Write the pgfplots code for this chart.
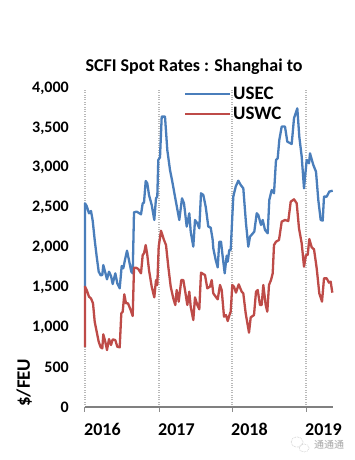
\documentclass[border=0pt]{standalone}
\usepackage{pgfplots}
\pgfplotsset{compat=1.18}
\usepackage{fontspec}
\setmainfont{Carlito}
\newfontfamily\cjk{Noto Sans CJK SC}
\definecolor{ublue}{RGB}{74,126,187}
\definecolor{ured}{RGB}{190,75,72}
\pgfplotstableread{
x v
0 1500
0 2554
1.7 2520
4 2428
6 2458
7.7 2336
9.7 2094
11.7 1885
13.7 1697
15.7 1651
17.3 1655
18.3 1780
20.3 1684
22 1601
24 1697
26 1643
27.7 1542
30.3 1676
32.3 1551
34.7 1488
36.7 1768
38.3 1739
40.3 1864
42 1960
44.3 1822
46.3 1697
47.7 1676
49 2441
51.7 2450
56 2416
57.7 2554
59 2563
60.7 2834
62.3 2805
64 2659
66.7 2533
69.3 2345
71 2617
72.3 2638
73.3 3098
75 3131
76.7 3641
80 3641
82.3 3223
85 2972
87.3 2826
90 2638
94.3 2345
97 2617
99 2554
101.7 2262
104.3 2429
105.7 2199
108.3 2011
110 2345
112.3 2303
114.3 2241
116 2680
118.3 2659
120.7 2512
123.3 2262
125.7 2249
127.7 2094
128.3 1989
130.7 1843
132.7 1751
134.3 2073
136 2073
137.7 1885
139.7 1676
141.7 1898
142.7 1822
144.3 1969
145.7 1969
147.3 2387
148.3 2638
150.7 2763
153.3 2838
155.7 2784
158.3 2742
161 2303
163.3 2011
165 2136
169.3 2199
171.7 2429
173.3 2408
176 2283
177.7 2345
180 2220
182.7 2178
184.3 2596
186.7 2721
189 2680
191 3098
192.7 3119
194.3 3348
196.7 3516
200 3516
202.3 3327
206.7 3298
209 3620
212.3 3745
214.3 3390
216.7 3139
219 2742
221.7 3098
224 3056
225 3181
228.3 3035
231 2951
233.3 2596
235.7 2345
237.7 2337
239 2638
241.7 2638
244.3 2701
247.7 2713
}\usec
\pgfplotstableread{
x v
0 750
0 1509
1.7 1467
4 1383
6 1362
8 1300
9.7 1070
11.7 945
13.7 819
15.7 748
17.3 735
18.3 911
20.3 819
22 714
24 852
26 777
27.7 848
30.3 840
32.3 756
34.7 748
36.3 1174
37.7 1195
39.3 1413
41 1300
43 1300
45.7 1216
47.7 1141
49 1747
51 1747
53.3 1730
56 1676
57.7 1906
59 1927
60.7 2031
62.3 1906
64 1718
66.7 1509
69.3 1375
71 1592
72.3 1530
73.7 2010
76 2211
79 2094
81 2031
83.3 1760
85.7 1509
88.3 1362
90.3 1279
91.7 1467
93.7 1321
96.3 1592
98.3 1592
100 1467
102.3 1279
104.3 1446
105.7 1258
108.3 1091
110 1375
112.3 1279
114.3 1225
116 1684
120 1655
122.3 1488
125 1509
126.7 1592
128.3 1425
130.7 1383
132.7 1350
135 1530
136.7 1467
139 1133
141 1153
142.7 1078
145 1174
145.7 1195
147.3 1530
149 1509
151 1434
153.7 1538
156.7 1446
158.3 1425
160.7 1174
164 932
165.7 1124
169 1153
171 1446
172.7 1467
175 1279
176.7 1279
178.3 1530
180.7 1279
182.3 1195
184 1530
186 1592
187.7 1676
189 2031
191 2073
194 2094
196.7 2324
200 2345
203.3 2332
205.7 2575
209 2604
211.7 2554
214 2240
216.7 2052
219 1760
221 1906
222.7 1906
224.3 2107
226.7 2002
229 1977
231.7 1739
234.3 1425
237 1321
239 1613
241.7 1613
244 1559
245.7 1571
247.3 1434
}\uswc
\begin{document}
\begin{tikzpicture}[x=1pt,y=1pt]
\path[use as bounding box,fill=white] (0,0) rectangle (354,460);
\begin{axis}[
  at={(85pt,53pt)},anchor=origin,
  scale only axis,width=248pt,height=319pt,
  xmin=0,xmax=248,ymin=0,ymax=4000,
  clip=false,
  axis line style={draw=none},
  axis x line*=bottom,
  axis y line*=left,
  xtick={0,74,147,221},
  xticklabels={2016,2017,2018,2019},
  xticklabel style={anchor=north west,xshift=-1pt,yshift=-11pt,font=\fontsize{18}{18}\selectfont\bfseries,inner sep=0pt},
  ytick={0,500,1000,1500,2000,2500,3000,3500,4000},
  yticklabel style={font=\fontsize{16}{16}\selectfont\bfseries,inner sep=0pt,xshift=-11pt},
  /pgf/number format/assume math mode=true,
  /pgf/number format/1000 sep={,},
  y tick style={draw=none},
  x tick style={draw=gray!90,line width=1pt},
  tick align=outside,
  major tick length=5pt,
  xmajorgrids=true,
  grid style={dotted,draw=gray!55,line width=1.2pt},
  legend style={at={(99pt,322pt)},anchor=north west,draw=none,fill=none,font=\fontsize{19}{20}\selectfont\bfseries,inner sep=0pt,row sep=2pt,legend cell align=left},
  legend image code/.code={\draw[#1,line width=2pt] (0,0) -- (45pt,0);},
]
\draw[draw=gray,line width=1.4pt] (axis cs:0,0) -- (axis cs:248,0);
\addplot[ublue,line width=2.3pt,line join=round] table[x=x,y=v]{\usec};
\addlegendentry{USEC}
\addplot[ured,line width=2.3pt,line join=round] table[x=x,y=v]{\uswc};
\addlegendentry{USWC}
\end{axis}
\node[font=\fontsize{18}{18}\selectfont\bfseries,anchor=base] at (194,388) {SCFI Spot Rates : Shanghai to};
\node[font=\fontsize{19}{19}\selectfont\bfseries,anchor=south west,rotate=90,inner sep=0pt] at (32,53) {\$/FEU};
\node[font=\cjk\fontsize{10}{10}\selectfont,text=gray!70,anchor=base west,inner sep=0pt] at (314,11) {通通通};
\draw[gray!50,densely dotted,line width=0.6pt] (297,18) ellipse (6 and 5) (304,12) ellipse (5 and 4);
\end{tikzpicture}
\end{document}
